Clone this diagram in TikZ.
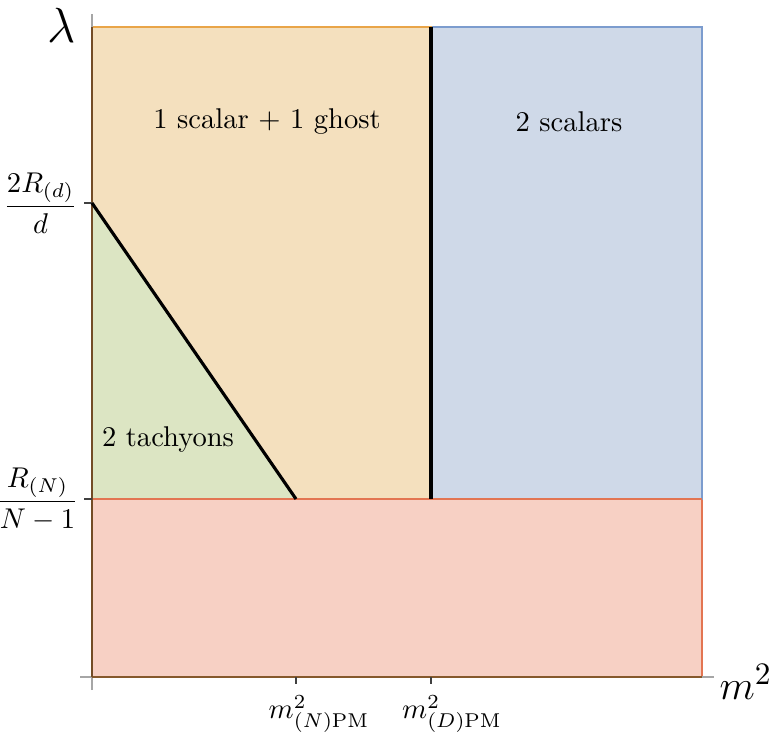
\documentclass[tikz,border=0pt]{standalone}
\usepackage{amsmath}
\usepackage{xcolor}
\usetikzlibrary{positioning}

\definecolor{ghostfill}{HTML}{F4E0BE}
\definecolor{ghostline}{HTML}{E9A548}
\definecolor{tachfill}{HTML}{DCE5C3}
\definecolor{tachline}{HTML}{8FA86A}
\definecolor{scalfill}{HTML}{CFD9E8}
\definecolor{scalline}{HTML}{7C9CCE}
\definecolor{lowfill}{HTML}{F7D0C4}
\definecolor{lowline}{HTML}{E37552}

\begin{document}
\begin{tikzpicture}[
    x=0.35pt, y=-0.35pt,
    region/.style={line width=0.6pt},
    bound/.style={line width=1.1pt, black},
    axis/.style={draw=gray!70, line width=0.5pt},
    tick/.style={draw=black!75, line width=0.4pt},
    lab/.style={font=\normalsize, inner sep=1pt},
    big/.style={font=\fontsize{16}{18}\selectfont, inner sep=0pt}
]
    \useasboundingbox (0,0) rectangle (774,731);

    % corner points of the regions
    \coordinate (tl) at (92,27);
    \coordinate (tm) at (431,27);
    \coordinate (tr) at (702,27);
    \coordinate (rd) at (92,203);
    \coordinate (ml) at (92,499);
    \coordinate (mn) at (296,499);
    \coordinate (mm) at (431,499);
    \coordinate (mr) at (702,499);
    \coordinate (bl) at (92,677);
    \coordinate (br) at (702,677);

    % coloured regions
    \filldraw[region, fill=lowfill, draw=lowline] (ml) -- (mr) -- (br) -- (bl) -- cycle;
    \filldraw[region, fill=scalfill, draw=scalline] (tm) -- (tr) -- (mr) -- (mm) -- cycle;
    \filldraw[region, fill=tachfill, draw=tachline] (rd) -- (mn) -- (ml) -- cycle;
    \filldraw[region, fill=ghostfill, draw=ghostline] (tl) -- (tm) -- (mm) -- (mn) -- (rd) -- cycle;
    \draw[region, draw=lowline] (ml) -- (mr);

    % axes
    \coordinate (ytop) at (92,14);
    \coordinate (ybot) at (92,690);
    \coordinate (xleft) at (80,677);
    \coordinate (xright) at (714,677);
    \draw[axis] (ybot) -- (ytop);
    \draw[axis] (xleft) -- (xright);
    \draw[draw=brown!70!black, line width=0.6pt] (bl) -- (br);
    \draw[draw=brown!60!black, line width=0.5pt] (bl) -- (tl);

    % ticks
    \coordinate (t1) at (84,203);
    \coordinate (t2) at (84,499);
    \coordinate (t3) at (296,684);
    \coordinate (t4) at (431,684);
    \coordinate (b3) at (296,677);
    \coordinate (b4) at (431,677);
    \draw[tick] (t1) -- (rd);
    \draw[tick] (t2) -- (ml);
    \draw[tick] (b3) -- (t3);
    \draw[tick] (b4) -- (t4);

    % phase boundaries
    \draw[bound] (rd) -- (mn);
    \draw[bound] (tm) -- (mm);

    % axis labels
    \node[big] (lam) at (62,25) {$\lambda$};
    \node[big, anchor=west, font=\fontsize{15}{17}\selectfont] (msq) at (719,682) {$m^2$};

    \node[lab, anchor=east] (rdlab) at (81,203) {$\dfrac{2R_{(d)}}{d}$};
    \node[lab, anchor=east] (rnlab) at (82,499) {$\dfrac{R_{(N)}}{N-1}$};
    \node[lab, anchor=north] (mnlab) at (319,692) {$m^2_{(N)\mathrm{PM}}$};
    \node[lab, anchor=north] (mdlab) at (452,692) {$m^2_{(D)\mathrm{PM}}$};

    % region labels
    \node[lab] (ghost) at (267,122) {1 scalar + 1 ghost};
    \node[lab] (scal) at (569,122) {2 scalars};
    \node[lab] (tach) at (168,440) {2 tachyons};
\end{tikzpicture}
\end{document}
